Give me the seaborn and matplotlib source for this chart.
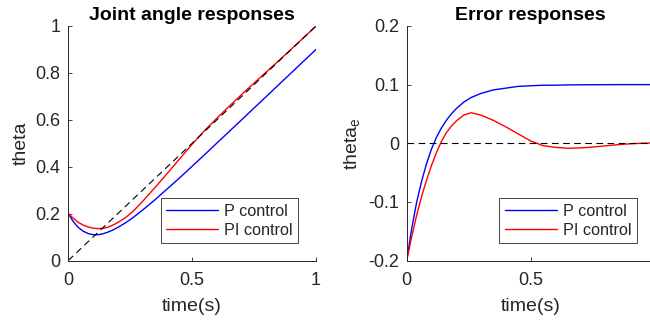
import matplotlib
matplotlib.use("Agg")
import matplotlib.pyplot as plt
import seaborn as sns
import pandas as pd

# ---- data ----
time_s = [0, 0.02, 0.04, 0.06, 0.08, 0.10, 0.12, 0.14, 0.16, 0.18, 0.20, 0.23, 0.26,
          0.30, 0.35, 0.40, 0.45, 0.50, 0.55, 0.60, 0.65, 0.70, 0.75, 0.80, 0.85,
          0.90, 0.95, 1.00]

theta_p = [0.200, 0.166, 0.141, 0.125, 0.115, 0.110, 0.110, 0.114, 0.121, 0.130,
           0.141, 0.160, 0.182, 0.215, 0.259, 0.306, 0.353, 0.402, 0.451, 0.501,
           0.5505, 0.6003, 0.6502, 0.7001, 0.750, 0.800, 0.850, 0.900]
theta_pi = [0.200, 0.180, 0.163, 0.151, 0.143, 0.138, 0.136, 0.137, 0.142, 0.151,
            0.162, 0.182, 0.208, 0.252, 0.311, 0.372, 0.434, 0.496, 0.554, 0.607,
            0.6585, 0.708, 0.7565, 0.8045, 0.8525, 0.901, 0.950, 0.9995]

err_p = [-0.200, -0.146, -0.101, -0.065, -0.035, -0.010, 0.010, 0.026, 0.039, 0.050,
         0.059, 0.070, 0.078, 0.085, 0.091, 0.094, 0.097, 0.098, 0.099, 0.099,
         0.0995, 0.0997, 0.0998, 0.0999, 0.1, 0.1, 0.1, 0.1]
err_pi = [-0.200, -0.160, -0.123, -0.091, -0.063, -0.038, -0.016, 0.003, 0.018, 0.029,
          0.038, 0.048, 0.052, 0.048, 0.039, 0.028, 0.016, 0.004, -0.004, -0.007,
          -0.0085, -0.008, -0.0065, -0.0045, -0.0025, -0.001, 0.0, 0.0005]

ref_time = [0, 1]
ref_theta = [0, 1]
ref_err = [0, 0]

series_labels = ["P control", "PI control"]
titles = ["Joint angle responses", "Error responses"]
x_label = "time(s)"
y_labels = ["theta", r"theta$_\mathregular{e}$"]

x1_ticks = [0, 0.5, 1]
x1_tick_labels = ["0", "0.5", "1"]
x2_ticks = [0, 0.5]
x2_tick_labels = ["0", "0.5"]
y1_ticks = [0, 0.2, 0.4, 0.6, 0.8, 1]
y1_tick_labels = ["0", "0.2", "0.4", "0.6", "0.8", "1"]
y2_ticks = [-0.2, -0.1, 0, 0.1, 0.2]
y2_tick_labels = ["-0.2", "-0.1", "0", "0.1", "0.2"]

# ---- style ----
sns.set_style("ticks")
plt.rcParams["font.family"] = ["Liberation Sans", "DejaVu Sans"]
plt.rcParams["axes.unicode_minus"] = False
plt.rcParams["mathtext.fontset"] = "custom"
plt.rcParams["mathtext.rm"] = "Liberation Sans"

axis_col = "#262626"
W, H = 650, 320
fig = plt.figure(figsize=(W / 100, H / 100), dpi=100)
ax1 = fig.add_axes([68.3 / W, 1 - 260.5 / H, 247.7 / W, 234.5 / H])
ax2 = fig.add_axes([406.7 / W, 1 - 260.5 / H, 247.7 / W, 234.5 / H])

df_left = pd.DataFrame({"t": time_s, "p": theta_p, "pi": theta_pi})
df_right = pd.DataFrame({"t": time_s, "p": err_p, "pi": err_pi})

for ax, df, ref_y, ylab, title, xt, xtl, yt, ytl, ylim in [
    (ax1, df_left, ref_theta, y_labels[0], titles[0], x1_ticks, x1_tick_labels,
     y1_ticks, y1_tick_labels, (0, 1)),
    (ax2, df_right, ref_err, y_labels[1], titles[1], x2_ticks, x2_tick_labels,
     y2_ticks, y2_tick_labels, (-0.2, 0.2)),
]:
    sns.lineplot(data=df, x="t", y="p", ax=ax, color="#0000ff", lw=1.0,
                 label=series_labels[0])
    sns.lineplot(data=df, x="t", y="pi", ax=ax, color="#ff0000", lw=1.0,
                 label=series_labels[1])
    sns.lineplot(x=ref_time, y=ref_y, ax=ax, color="black", lw=0.8,
                 linestyle=(0, (6, 4)), legend=False)
    ax.set_xlim(0, 1)
    ax.set_ylim(*ylim)
    ax.set_xticks(xt)
    ax.set_xticklabels(xtl)
    ax.set_yticks(yt)
    ax.set_yticklabels(ytl)
    for s in ["top", "right"]:
        ax.spines[s].set_visible(False)
    for s in ["left", "bottom"]:
        ax.spines[s].set_color(axis_col)
        ax.spines[s].set_linewidth(0.7)
    ax.tick_params(direction="in", length=3, width=0.6, color=axis_col,
                   labelsize=13, labelcolor=axis_col)
    ax.tick_params(axis="x", pad=8.5)
    ax.tick_params(axis="y", pad=5.5)
    ax.set_xlabel(x_label, fontsize=14, color=axis_col, labelpad=6.5)
    ax.set_ylabel(ylab, fontsize=14, color=axis_col, labelpad=4)
    ax.set_title(title, fontsize=14, fontweight="bold", color="black", pad=4)
    leg = ax.legend(loc="lower right", bbox_to_anchor=(0.929, 0.0735),
                    borderaxespad=0, fontsize=11.7, frameon=True, fancybox=False,
                    edgecolor=axis_col, framealpha=1, handlelength=3.2,
                    handletextpad=0.35, labelspacing=0.25, borderpad=0.35)
    leg.get_frame().set_linewidth(0.6)
    for txt in leg.get_texts():
        txt.set_color(axis_col)

fig.savefig("out.png", dpi=100)
